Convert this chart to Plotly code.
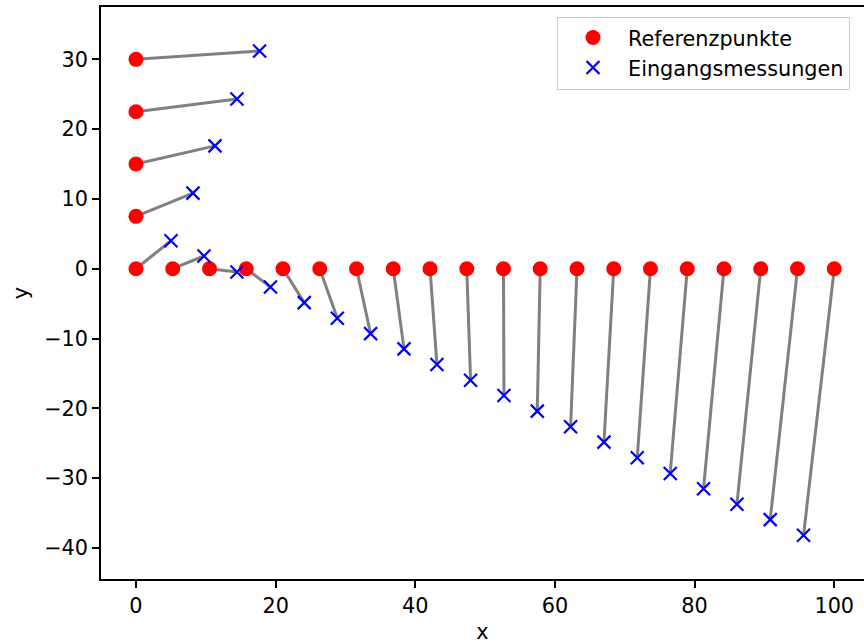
import plotly.graph_objects as go

# Reference points (x along axis, then vertical column)
ref_x = [0, 5.26, 10.53, 15.79, 21.05, 26.32, 31.58, 36.84, 42.11, 47.37,
         52.63, 57.89, 63.16, 68.42, 73.68, 78.95, 84.21, 89.47, 94.74, 100,
         0, 0, 0, 0]
ref_y = [0, 0, 0, 0, 0, 0, 0, 0, 0, 0,
         0, 0, 0, 0, 0, 0, 0, 0, 0, 0,
         7.5, 15, 22.5, 30]

# Input measurements (matching order)
meas_x = [5.01, 9.74, 14.46, 19.26, 24.10, 28.83, 33.60, 38.38, 43.10, 47.92,
          52.70, 57.47, 62.24, 67.02, 71.79, 76.51, 81.28, 86.06, 90.83, 95.60,
          8.16, 11.31, 14.46, 17.70]
meas_y = [4.01, 1.82, -0.47, -2.61, -4.86, -7.11, -9.30, -11.49, -13.73, -15.98,
          -18.17, -20.41, -22.65, -24.85, -27.08, -29.33, -31.52, -33.76, -35.95, -38.20,
          10.83, 17.60, 24.32, 31.19]

x_ticks = [0, 20, 40, 60, 80, 100]
y_ticks = [-40, -30, -20, -10, 0, 10, 20, 30]

FONT = "DejaVu Sans"
FS = 20.8

seg_x, seg_y = [], []
for rx, ry, mx, my in zip(ref_x, ref_y, meas_x, meas_y):
    seg_x += [rx, mx, None]
    seg_y += [ry, my, None]

fig = go.Figure()
fig.add_trace(go.Scatter(x=seg_x, y=seg_y, mode="lines",
                         line=dict(color="#808080", width=3),
                         showlegend=False, hoverinfo="skip"))
fig.add_trace(go.Scatter(x=ref_x, y=ref_y, mode="markers", name="Referenzpunkte",
                         marker=dict(color="red", size=15, symbol="circle",
                                     line=dict(width=0))))
fig.add_trace(go.Scatter(x=meas_x, y=meas_y, mode="markers", name="Eingangsmessungen",
                         marker=dict(color="blue", size=13, symbol="x-thin",
                                     line=dict(color="blue", width=2.2))))

fig.update_layout(
    width=864, height=644,
    margin=dict(l=101, r=0, t=7, b=65),
    plot_bgcolor="white", paper_bgcolor="white",
    font=dict(family=FONT, size=FS, color="black"),
    legend=dict(x=(557 - 101) / 763, y=(579 - 16.5) / 572, xanchor="left", yanchor="top",
                bordercolor="#cccccc", borderwidth=1, bgcolor="rgba(255,255,255,0.8)",
                font=dict(family=FONT, size=FS, color="black"),
                itemwidth=60),
    xaxis=dict(range=[-5.01, 104.26], tickvals=x_ticks, showgrid=False, zeroline=False,
               showline=True, linecolor="black", linewidth=1.6, mirror=True,
               ticks="outside", ticklen=7, tickwidth=1.6, tickcolor="black",
               title=dict(text="x", standoff=11, font=dict(family=FONT, size=FS))),
    yaxis=dict(range=[-44.46, 37.5], tickvals=y_ticks, showgrid=False, zeroline=False,
               showline=True, linecolor="black", linewidth=1.6, mirror=False,
               ticks="outside", ticklen=7, tickwidth=1.6, tickcolor="black",
               title=dict(text="y", standoff=10, font=dict(family=FONT, size=FS))),
)

fig.write_html("out.html", config={"displayModeBar": False},
               post_script="document.body.style.margin='0';")
